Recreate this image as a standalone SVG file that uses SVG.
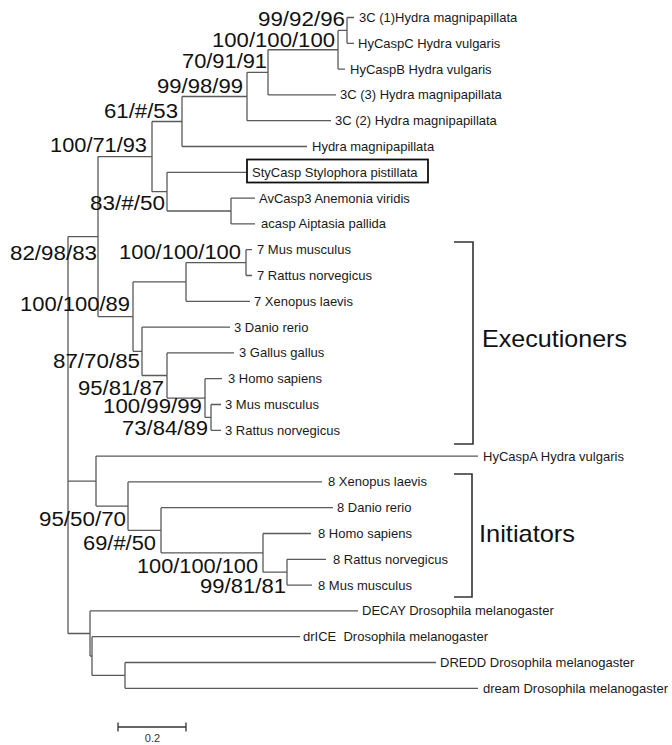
<svg xmlns="http://www.w3.org/2000/svg" width="672" height="745" viewBox="0 0 672 745">
<style>
.br{fill:none;stroke:#5a5a5a;stroke-width:1.3}
.bk{fill:none;stroke:#333;stroke-width:1.6}
.lf{font-family:"Liberation Sans",Arial,sans-serif;font-size:13px;fill:#1a1a1a}
.bs{font-family:"Liberation Sans",Arial,sans-serif;font-size:20px;fill:#111}
.gp{font-family:"Liberation Sans",Arial,sans-serif;font-size:24px;fill:#111}
.sc{font-family:"Liberation Sans",Arial,sans-serif;font-size:11px;fill:#333}
</style>
<rect width="672" height="745" fill="#fff"/>
<g id="connectors">
<path class="br" d="M68 236.6V633.5 M68 236.6H98 M68 481.1H96 M68 633.5H90"/>
<path class="br" d="M98 156.6V316.6 M98 156.6H152 M98 316.6H133"/>
<path class="br" d="M152 121.5V191.65 M152 121.5H182 M152 191.65H167"/>
<path class="br" d="M182 96.5V146.5 M182 96.5H247 M182 146.5H307"/>
<path class="br" d="M247 72.3V120.7 M247 72.3H268 M247 120.7H331"/>
<path class="br" d="M268 49.75V94.9 M268 49.75H338 M268 94.9H336"/>
<path class="br" d="M338 30.4V69.1 M338 30.4H347 M338 69.1H345"/>
<path class="br" d="M347 17.5V43.3 M347 17.5H354 M347 43.3H354"/>
<path class="br" d="M167 172.3V211 M167 172.3H247 M167 211H231"/>
<path class="br" d="M231 198.1V223.9 M231 198.1H255 M231 223.9H255"/>
<path class="br" d="M133 281.95V351.3 M133 281.95H186 M133 351.3H142"/>
<path class="br" d="M186 262.6V301.3 M186 262.6H246 M186 301.3H250"/>
<path class="br" d="M246 249.7V275.5 M246 249.7H252 M246 275.5H252"/>
<path class="br" d="M142 327.1V375.5 M142 327.1H230 M142 375.5H167"/>
<path class="br" d="M167 352.9V398.05 M167 352.9H234 M167 398.05H205"/>
<path class="br" d="M205 378.7V417.4 M205 378.7H222 M205 417.4H211"/>
<path class="br" d="M211 404.5V430.3 M211 404.5H221 M211 430.3H221"/>
<path class="br" d="M96 456.1V506.1 M96 456.1H478 M96 506.1H128"/>
<path class="br" d="M128 481.9V530.3 M128 481.9H322 M128 530.3H161"/>
<path class="br" d="M161 507.7V552.85 M161 507.7H333 M161 552.85H263"/>
<path class="br" d="M263 533.5V572.2 M263 533.5H311 M263 572.2H287"/>
<path class="br" d="M287 559.3V585.1 M287 559.3H326 M287 585.1H312"/>
<path class="br" d="M90 610.9V656 M90 610.9H358 M90 656H92"/>
<path class="br" d="M92 636.7V675.4 M92 636.7H300 M92 675.4H125"/>
<path class="br" d="M125 662.5V688.3 M125 662.5H436 M125 688.3H478"/>
</g>
<g id="leaves">
<g id="leaf0"><text class="lf" x="359" y="22">3C (1)Hydra magnipapillata</text></g>
<g id="leaf1"><text class="lf" x="358" y="47.8">HyCaspC Hydra vulgaris</text></g>
<g id="leaf2"><text class="lf" x="350" y="73.6">HyCaspB Hydra vulgaris</text></g>
<g id="leaf3"><text class="lf" x="340" y="99.4">3C (3) Hydra magnipapillata</text></g>
<g id="leaf4"><text class="lf" x="335" y="125.2">3C (2) Hydra magnipapillata</text></g>
<g id="leaf5"><text class="lf" x="312" y="151">Hydra magnipapillata</text></g>
<g id="leaf6"><rect x="247" y="159.5" width="181" height="23" fill="none" stroke="#111" stroke-width="1.8"/><text class="lf" x="252" y="176.8">StyCasp Stylophora pistillata</text></g>
<g id="leaf7"><text class="lf" x="259" y="202.6">AvCasp3 Anemonia viridis</text></g>
<g id="leaf8"><text class="lf" x="261" y="228.4">acasp Aiptasia pallida</text></g>
<g id="leaf9"><text class="lf" x="257" y="254.2">7 Mus musculus</text></g>
<g id="leaf10"><text class="lf" x="257" y="280">7 Rattus norvegicus</text></g>
<g id="leaf11"><text class="lf" x="254" y="305.8">7 Xenopus laevis</text></g>
<g id="leaf12"><text class="lf" x="234" y="331.6">3 Danio rerio</text></g>
<g id="leaf13"><text class="lf" x="239" y="357.4">3 Gallus gallus</text></g>
<g id="leaf14"><text class="lf" x="228" y="383.2">3 Homo sapiens</text></g>
<g id="leaf15"><text class="lf" x="225" y="409">3 Mus musculus</text></g>
<g id="leaf16"><text class="lf" x="225" y="434.8">3 Rattus norvegicus</text></g>
<g id="leaf17"><text class="lf" x="483" y="460.6">HyCaspA Hydra vulgaris</text></g>
<g id="leaf18"><text class="lf" x="328" y="486.4">8 Xenopus laevis</text></g>
<g id="leaf19"><text class="lf" x="337" y="512.2">8 Danio rerio</text></g>
<g id="leaf20"><text class="lf" x="318" y="538">8 Homo sapiens</text></g>
<g id="leaf21"><text class="lf" x="333" y="563.8">8 Rattus norvegicus</text></g>
<g id="leaf22"><text class="lf" x="318" y="589.6">8 Mus musculus</text></g>
<g id="leaf23"><text class="lf" x="362" y="615.4">DECAY Drosophila melanogaster</text></g>
<g id="leaf24"><text class="lf" x="303" y="641.2" xml:space="preserve">drICE  Drosophila melanogaster</text></g>
<g id="leaf25"><text class="lf" x="440" y="667">DREDD Drosophila melanogaster</text></g>
<g id="leaf26"><text class="lf" x="483" y="692.8">dream Drosophila melanogaster</text></g>
</g>
<g id="support">
<g id="n_a"><text class="bs" x="258" y="26" textLength="87" lengthAdjust="spacingAndGlyphs">99/92/96</text></g>
<g id="n_b"><text class="bs" x="212" y="47" textLength="123" lengthAdjust="spacingAndGlyphs">100/100/100</text></g>
<g id="n_c"><text class="bs" x="182" y="68" textLength="85" lengthAdjust="spacingAndGlyphs">70/91/91</text></g>
<g id="n_d"><text class="bs" x="157" y="93" textLength="86" lengthAdjust="spacingAndGlyphs">99/98/99</text></g>
<g id="n_e"><text class="bs" x="104" y="118" textLength="74" lengthAdjust="spacingAndGlyphs">61/#/53</text></g>
<g id="n_h"><text class="bs" x="50" y="152" textLength="97" lengthAdjust="spacingAndGlyphs">100/71/93</text></g>
<g id="n_g"><text class="bs" x="90" y="210" textLength="75" lengthAdjust="spacingAndGlyphs">83/#/50</text></g>
<g id="n_p"><text class="bs" x="10" y="260" textLength="87" lengthAdjust="spacingAndGlyphs">82/98/83</text></g>
<g id="n_i"><text class="bs" x="119" y="259" textLength="122" lengthAdjust="spacingAndGlyphs">100/100/100</text></g>
<g id="n_o"><text class="bs" x="20" y="311" textLength="110" lengthAdjust="spacingAndGlyphs">100/100/89</text></g>
<g id="n_n"><text class="bs" x="53" y="368" textLength="87" lengthAdjust="spacingAndGlyphs">87/70/85</text></g>
<g id="n_m"><text class="bs" x="78" y="395" textLength="86" lengthAdjust="spacingAndGlyphs">95/81/87</text></g>
<g id="n_l"><text class="bs" x="103" y="412.5" textLength="99" lengthAdjust="spacingAndGlyphs">100/99/99</text></g>
<g id="n_k"><text class="bs" x="122" y="435" textLength="86" lengthAdjust="spacingAndGlyphs">73/84/89</text></g>
<g id="n_t"><text class="bs" x="39" y="526" textLength="87" lengthAdjust="spacingAndGlyphs">95/50/70</text></g>
<g id="n_s"><text class="bs" x="83" y="550" textLength="73" lengthAdjust="spacingAndGlyphs">69/#/50</text></g>
<g id="n_r"><text class="bs" x="137" y="573" textLength="121" lengthAdjust="spacingAndGlyphs">100/100/100</text></g>
<g id="n_q"><text class="bs" x="200" y="593" textLength="86" lengthAdjust="spacingAndGlyphs">99/81/81</text></g>
</g>
<g id="executioners">
<path class="bk" d="M454 242H473V444H454"/>
<text class="gp" x="482" y="347" textLength="145" lengthAdjust="spacingAndGlyphs">Executioners</text>
</g>
<g id="initiators">
<path class="bk" d="M454 474H472V597H454"/>
<text class="gp" x="479" y="542" textLength="96" lengthAdjust="spacingAndGlyphs">Initiators</text>
</g>
<g id="scalebar">
<path class="bk" d="M118 727H186 M118 722.5V731.5 M186 722.5V731.5" style="stroke-width:1.3"/>
<text class="sc" x="152.5" y="742" text-anchor="middle">0.2</text>
</g>
</svg>
